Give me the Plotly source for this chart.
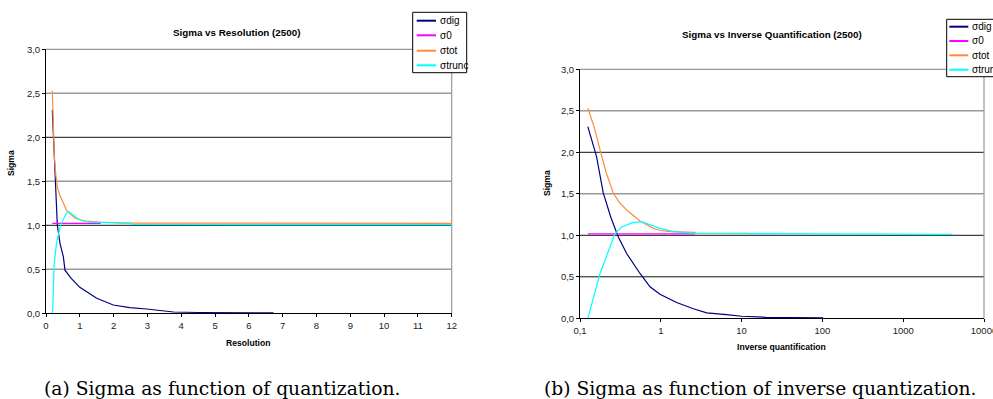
import plotly.graph_objects as go

# ---------------- data ----------------
series_names = ["σdig", "σ0", "σtot", "σtrunc"]
series_colors = ["#000080", "#FF00FF", "#FF8C3C", "#00FFFF"]

# Left panel: Sigma vs Resolution
res_dig_x = [0.187, 0.237, 0.266, 0.335, 0.414, 0.513, 0.562, 0.66, 0.74, 1.0, 1.5, 1.99, 2.48, 2.98, 3.47, 3.77, 4.5, 5.5, 6.73]
res_dig_y = [2.31, 1.80, 1.50, 1.00, 0.795, 0.643, 0.49, 0.44, 0.40, 0.295, 0.17, 0.094, 0.064, 0.049, 0.026, 0.015, 0.009, 0.006, 0.005]
res_0_x = [0.187, 1.62]
res_0_y = [1.023, 1.023]
res_tot_x = [0.187, 0.215, 0.246, 0.29, 0.335, 0.40, 0.463, 0.611, 0.858, 1.15, 1.6, 2.5, 12.0]
res_tot_y = [2.53, 2.15, 1.78, 1.58, 1.44, 1.35, 1.29, 1.17, 1.08, 1.047, 1.035, 1.025, 1.023]
res_trunc_x = [0.187, 0.198, 0.24, 0.266, 0.31, 0.365, 0.414, 0.513, 0.62, 0.66, 0.76, 0.85, 1.0, 1.3, 1.6, 2.5, 2.55, 12.0]
res_trunc_y = [0.0, 0.04, 0.55, 0.65, 0.80, 0.89, 0.98, 1.07, 1.15, 1.158, 1.13, 1.10, 1.06, 1.035, 1.03, 1.022, 1.009, 1.008]

# Right panel: Sigma vs Inverse Quantification
inv_dig_x = [0.125, 0.16, 0.194, 0.24, 0.298, 0.378, 0.553, 0.735, 0.977, 1.57, 2.53, 3.7, 6.5, 10, 20, 50, 102]
inv_dig_y = [2.31, 1.95, 1.51, 1.22, 0.98, 0.78, 0.54, 0.38, 0.29, 0.19, 0.115, 0.065, 0.045, 0.025, 0.012, 0.006, 0.004]
inv_0_x = [0.125, 2.65]
inv_0_y = [1.018, 1.018]
inv_tot_x = [0.125, 0.15, 0.177, 0.21, 0.258, 0.31, 0.378, 0.553, 0.807, 1.0, 1.3, 2.65, 2.7, 12.4]
inv_tot_y = [2.53, 2.30, 2.03, 1.76, 1.51, 1.39, 1.305, 1.172, 1.084, 1.058, 1.044, 1.036, 1.025, 1.024]
inv_trunc_x = [0.125, 0.15, 0.177, 0.235, 0.271, 0.328, 0.437, 0.58, 0.77, 0.977, 1.43, 2.78, 4055]
inv_trunc_y = [0.0, 0.28, 0.54, 0.86, 1.02, 1.10, 1.15, 1.164, 1.124, 1.084, 1.044, 1.024, 1.012]

y_ticks = [0, 0.5, 1.0, 1.5, 2.0, 2.5, 3.0]
y_ticklabels = ["0,0", "0,5", "1,0", "1,5", "2,0", "2,5", "3,0"]
res_ticks = list(range(0, 13))
res_ticklabels = [str(v) for v in res_ticks]
inv_ticks = [0.1, 1, 10, 100, 1000, 10000]
inv_ticklabels = ["0,1", "1", "10", "100", "1000", "10000"]

left_title = "Sigma vs Resolution (2500)"
right_title = "Sigma vs Inverse Quantification (2500)"
left_xtitle = "Resolution"
right_xtitle = "Inverse quantification"
ytitle = "Sigma"
caption_a = "(a) Sigma as function of quantization."
caption_b = "(b) Sigma as function of inverse quantization."

# ---------------- figure ----------------
W, H = 993, 399


def px(x):
    return x / W


def py(y):
    return 1 - y / H


FONT = "Liberation Sans, Arial, sans-serif"
SERIF = "DejaVu Serif, serif"
fig = go.Figure()

left_data = [(res_dig_x, res_dig_y), (res_0_x, res_0_y), (res_tot_x, res_tot_y), (res_trunc_x, res_trunc_y)]
right_data = [(inv_dig_x, inv_dig_y), (inv_0_x, inv_0_y), (inv_tot_x, inv_tot_y), (inv_trunc_x, inv_trunc_y)]

for (xs, ys), name, col in zip(left_data, series_names, series_colors):
    fig.add_trace(go.Scatter(x=xs, y=ys, mode="lines", name=name, showlegend=False,
                             line=dict(color=col, width=1.2), xaxis="x", yaxis="y"))
for (xs, ys), name, col in zip(right_data, series_names, series_colors):
    fig.add_trace(go.Scatter(x=xs, y=ys, mode="lines", name=name, showlegend=False,
                             line=dict(color=col, width=1.2), xaxis="x2", yaxis="y2"))

tickfont = dict(family=FONT, size=9.5, color="#222")
common_axis = dict(showgrid=False, zeroline=False, showline=True, linecolor="black", linewidth=1,
                   ticks="outside", ticklen=3, tickcolor="black", tickfont=tickfont,
                   automargin=False, ticklabeloverflow="allow")

fig.update_layout(
    template="none",
    width=W, height=H, margin=dict(l=0, r=0, t=0, b=0, pad=0),
    paper_bgcolor="white", plot_bgcolor="white", showlegend=False,
    xaxis=dict(domain=[px(46), px(451.7)], range=[0, 12], tickvals=res_ticks, ticktext=res_ticklabels,
               anchor="y", **common_axis),
    yaxis=dict(domain=[py(313.3), py(49.3)], range=[0, 3], tickvals=y_ticks, ticktext=y_ticklabels,
               anchor="x", **common_axis),
    xaxis2=dict(type="log", domain=[px(580), px(984)], range=[-1, 4], tickvals=inv_ticks,
                ticktext=inv_ticklabels, anchor="y2", **common_axis),
    yaxis2=dict(domain=[py(318.3), py(69.3)], range=[0, 3], tickvals=y_ticks, ticktext=y_ticklabels,
                anchor="x2", **common_axis),
)

shapes = []
# gridlines (black/grey alternating as in reference)
left_grid = [(0.5, "#999999", 1.6), (1.0, "#111111", 1), (1.5, "#999999", 1.6),
             (2.0, "#111111", 1), (2.5, "#999999", 1.6)]
right_grid = [(0.5, "#111111", 1), (1.0, "#111111", 1), (1.5, "#999999", 1.6),
              (2.0, "#111111", 1), (2.5, "#999999", 1.6)]
for yv, c, w in left_grid:
    shapes.append(dict(type="line", xref="x domain", yref="y", x0=0, x1=1, y0=yv, y1=yv,
                       line=dict(color=c, width=w), layer="below"))
for yv, c, w in right_grid:
    shapes.append(dict(type="line", xref="x2 domain", yref="y2", x0=0, x1=1, y0=yv, y1=yv,
                       line=dict(color=c, width=w), layer="below"))
# grey plot-area border on top and right
for xr, yr in (("x domain", "y domain"), ("x2 domain", "y2 domain")):
    shapes.append(dict(type="line", xref=xr, yref=yr, x0=0, x1=1, y0=1, y1=1,
                       line=dict(color="#999999", width=1.2), layer="below"))
    shapes.append(dict(type="line", xref=xr, yref=yr, x0=1, x1=1, y0=0, y1=1,
                       line=dict(color="#999999", width=1.2), layer="below"))

annotations = []


# legends (manual, boxed)
def add_legend(x0, y0, x1, y1, line_x0, line_x1, text_x, ys):
    shapes.append(dict(type="rect", xref="paper", yref="paper", x0=px(x0), x1=px(x1),
                       y0=py(y1), y1=py(y0), line=dict(color="black", width=1),
                       fillcolor="white", layer="above"))
    for name, col, yy in zip(series_names, series_colors, ys):
        shapes.append(dict(type="line", xref="paper", yref="paper", x0=px(line_x0), x1=px(line_x1),
                           y0=py(yy), y1=py(yy), line=dict(color=col, width=2), layer="above"))
        annotations.append(dict(xref="paper", yref="paper", x=px(text_x), y=py(yy), text=name,
                                showarrow=False, xanchor="left", yanchor="middle",
                                font=dict(family=FONT, size=10, color="black")))


add_legend(412.7, 12.3, 466.7, 72.7, 416.7, 436, 437.5, [20.7, 35.3, 50.7, 65.3])
add_legend(946.7, 19.3, 1010, 76.7, 949.3, 968.3, 969.5, [26.7, 41, 55.3, 69.7])


def text(x, y, s, size, bold=False, angle=0, family=FONT, color="black", anchor="center"):
    annotations.append(dict(xref="paper", yref="paper", x=px(x), y=py(y),
                            text=f"<b>{s}</b>" if bold else s, showarrow=False,
                            xanchor=anchor, yanchor="middle", textangle=angle,
                            font=dict(family=family, size=size, color=color)))


text(236, 32, left_title, 9.8, bold=True)
text(771.7, 34.3, right_title, 9.8, bold=True)
text(11, 163, ytitle, 8.6, bold=True, angle=-90)
text(547, 183, ytitle, 8.6, bold=True, angle=-90)
text(248, 343, left_xtitle, 8.6, bold=True)
text(781.7, 346.7, right_xtitle, 8.6, bold=True)
text(42, 388, caption_a, 18.7, family=SERIF, anchor="left")
text(541.5, 388, caption_b, 18.7, family=SERIF, anchor="left")

fig.update_layout(shapes=shapes, annotations=annotations)
fig.write_html("out.html", config={"displayModeBar": False},
               post_script="document.body.style.margin='0';document.body.style.overflow='hidden';")
